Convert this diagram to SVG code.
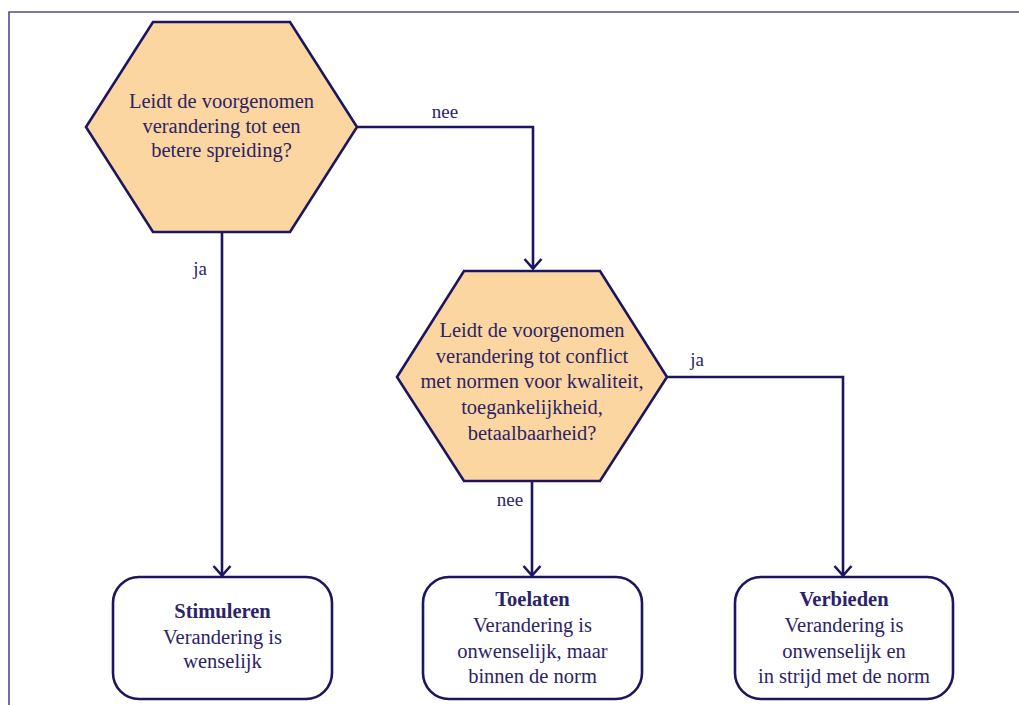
<svg xmlns="http://www.w3.org/2000/svg" width="1019" height="705" viewBox="0 0 1019 705">
<defs>
<style>
.frame{stroke:#514b88;stroke-width:1.6;fill:none}
.hex{fill:#fcd6a0;stroke:#1c1560;stroke-width:2.6;stroke-linejoin:miter}
.box{fill:#ffffff;stroke:#1c1560;stroke-width:2.6}
.conn{fill:none;stroke:#1c1560;stroke-width:2.6}
.t{font-size:20.5px;fill:#2b2466;text-anchor:middle}
.b{font-weight:bold}
.lbl{font-size:19px;fill:#2b2466;text-anchor:middle}
</style>
<marker id="arr" markerUnits="userSpaceOnUse" markerWidth="24" markerHeight="24" viewBox="-12 -12 24 24" refX="0" refY="0" orient="auto">
<path d="M-10,-8.5 L-0.5,0 L-10,8.5" fill="none" stroke="#1c1560" stroke-width="2.6"/>
</marker>
</defs>
<path class="frame" d="M9,705 L9,12 L1019,12"/>
<g font-family="'Liberation Serif', 'Times New Roman', Times, serif">
<g id="connectors">
<path class="conn" d="M357,127 L533,127 L533,269" marker-end="url(#arr)"/>
<path class="conn" d="M222,232 L222,576" marker-end="url(#arr)"/>
<path class="conn" d="M532,481 L532,576" marker-end="url(#arr)"/>
<path class="conn" d="M667,377 L843,377 L843,576" marker-end="url(#arr)"/>
<text class="lbl" x="445" y="118">nee</text>
<text class="lbl" x="200" y="275">ja</text>
<text class="lbl" x="697" y="366">ja</text>
<text class="lbl" x="510" y="506">nee</text>
</g>
<g id="q1">
<polygon class="hex" points="153,22 290,22 357,127 290,232 153,232 86,127"/>
<text class="t" x="221.5" y="108">Leidt de voorgenomen</text>
<text class="t" x="221.5" y="133">verandering tot een</text>
<text class="t" x="221.5" y="157">betere spreiding?</text>
</g>
<g id="q2">
<polygon class="hex" points="464,271 600,271 667,377 600,481 464,481 397,377"/>
<text class="t" x="532" y="337">Leidt de voorgenomen</text>
<text class="t" x="532" y="363">verandering tot conflict</text>
<text class="t" x="532" y="388">met normen voor kwaliteit,</text>
<text class="t" x="532" y="414">toegankelijkheid,</text>
<text class="t" x="532" y="440">betaalbaarheid?</text>
</g>
<g id="stimuleren">
<rect class="box" x="113" y="577" width="219" height="122" rx="26" ry="26"/>
<text class="t b" x="222.5" y="618">Stimuleren</text>
<text class="t" x="222.5" y="644">Verandering is</text>
<text class="t" x="222.5" y="668">wenselijk</text>
</g>
<g id="toelaten">
<rect class="box" x="423" y="577" width="219" height="122" rx="26" ry="26"/>
<text class="t b" x="532.5" y="606">Toelaten</text>
<text class="t" x="532.5" y="632">Verandering is</text>
<text class="t" x="532.5" y="658">onwenselijk, maar</text>
<text class="t" x="532.5" y="683">binnen de norm</text>
</g>
<g id="verbieden">
<rect class="box" x="735" y="577" width="218" height="122" rx="26" ry="26"/>
<text class="t b" x="844" y="606">Verbieden</text>
<text class="t" x="844" y="632">Verandering is</text>
<text class="t" x="844" y="658">onwenselijk en</text>
<text class="t" x="844" y="683">in strijd met de norm</text>
</g>
</g>
</svg>
